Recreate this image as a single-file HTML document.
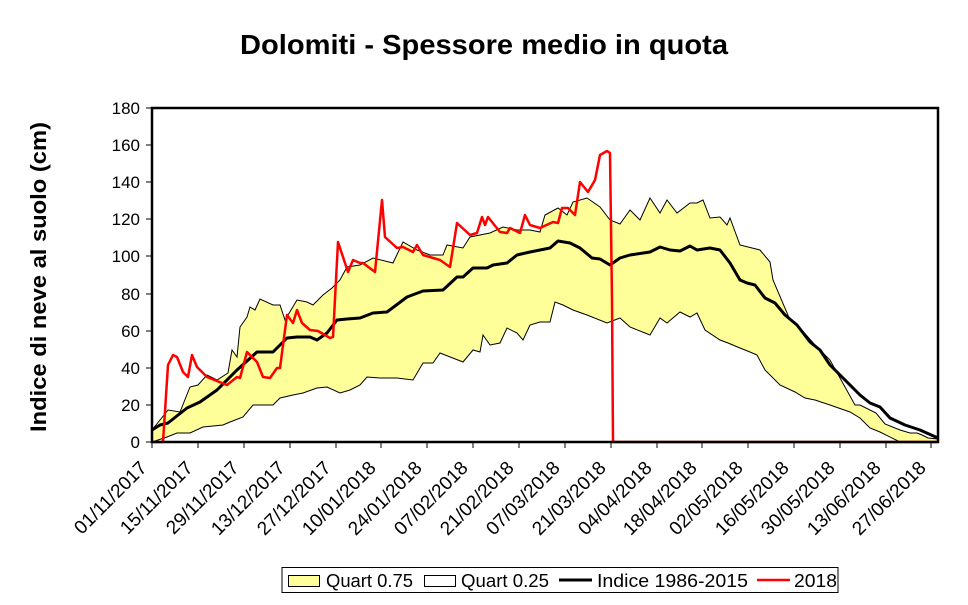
<!DOCTYPE html>
<html><head><meta charset="utf-8"><style>
body{margin:0;background:#fff;}
svg{display:block;font-family:"Liberation Sans",Arial,sans-serif;}
</style></head><body>
<svg width="968" height="605" viewBox="0 0 968 605" xmlns="http://www.w3.org/2000/svg">
<rect width="968" height="605" fill="#fff"/>
<text x="240" y="54" font-size="28" font-weight="bold" textLength="488" lengthAdjust="spacingAndGlyphs">Dolomiti - Spessore medio in quota</text>
<text transform="translate(46,432) rotate(-90)" font-size="22" font-weight="bold" textLength="310" lengthAdjust="spacingAndGlyphs">Indice di neve al suolo (cm)</text>
<!-- band -->
<polygon fill="#ffff99" stroke="none" points="152,430 168,410 180,412 190,387 198,385 207,375 217,380 228,373 232,350 237,357 240,327 247,317 250,307 255,310 260,299 273,305 280,305 285,320 297,300 307,302 313,305 323,295 332,288 340,280 347,267 360,265 373,258 393,263 403,242 417,250 430,255 443,255 447,245 463,248 470,237 490,233 503,227 517,230 530,230 540,232 545,215 558,208 567,215 573,202 587,198 600,207 610,220 620,224 630,210 640,220 650,198 660,213 667,200 677,213 690,203 697,203 703,200 710,218 720,217 727,225 730,218 740,245 760,250 770,262 773,280 790,320 800,328 815,345 830,360 840,378 855,405 860,405 876,413 885,424 900,430 910,433 917,433 922,435 928,438 938,439 938,442 900,442 880,432 870,428 860,418 850,412 830,405 815,400 805,398 795,392 780,385 765,370 757,355 750,352 740,348 728,343 720,340 705,330 697,313 690,317 680,312 667,323 660,318 650,335 645,333 630,327 620,318 607,323 587,315 573,310 563,305 555,302 550,322 540,322 530,325 523,340 517,333 507,328 500,343 490,345 483,335 480,352 473,350 463,362 440,353 433,363 423,363 413,380 397,378 380,378 367,377 360,385 350,390 340,393 327,387 317,388 303,393 293,395 280,398 273,405 253,405 243,417 230,422 223,425 203,427 190,433 177,433 167,437 152,442"/>
<polyline fill="none" stroke="#000" stroke-width="1" points="152,430 168,410 180,412 190,387 198,385 207,375 217,380 228,373 232,350 237,357 240,327 247,317 250,307 255,310 260,299 273,305 280,305 285,320 297,300 307,302 313,305 323,295 332,288 340,280 347,267 360,265 373,258 393,263 403,242 417,250 430,255 443,255 447,245 463,248 470,237 490,233 503,227 517,230 530,230 540,232 545,215 558,208 567,215 573,202 587,198 600,207 610,220 620,224 630,210 640,220 650,198 660,213 667,200 677,213 690,203 697,203 703,200 710,218 720,217 727,225 730,218 740,245 760,250 770,262 773,280 790,320 800,328 815,345 830,360 840,378 855,405 860,405 876,413 885,424 900,430 910,433 917,433 922,435 928,438 938,439"/>
<polyline fill="none" stroke="#000" stroke-width="1" points="152,442 167,437 177,433 190,433 203,427 223,425 230,422 243,417 253,405 273,405 280,398 293,395 303,393 317,388 327,387 340,393 350,390 360,385 367,377 380,378 397,378 413,380 423,363 433,363 440,353 463,362 473,350 480,352 483,335 490,345 500,343 507,328 517,333 523,340 530,325 540,322 550,322 555,302 563,305 573,310 587,315 607,323 620,318 630,327 645,333 650,335 660,318 667,323 680,312 690,317 697,313 705,330 720,340 728,343 740,348 750,352 757,355 765,370 780,385 795,392 805,398 815,400 830,405 850,412 860,418 870,428 880,432 900,442 938,442"/>
<polyline fill="none" stroke="#000" stroke-width="3" stroke-linejoin="round" points="152,430 160,425 168,423 187,408 200,402 217,390 237,370 257,352 273,352 287,338 297,337 310,337 317,340 327,333 337,320 347,319 360,318 373,313 387,312 407,297 423,291 443,290 457,277 463,277 473,268 487,268 493,265 507,263 517,255 530,252 550,248 558,241 570,243 580,248 592,258 600,259 610,265 620,258 630,255 650,252 660,247 670,250 680,251 690,246 697,250 710,248 720,250 730,263 740,280 747,283 755,285 765,298 775,303 785,315 797,325 810,342 820,350 830,365 840,375 860,395 870,403 880,407 890,418 905,425 920,430 938,438"/>
<polyline fill="none" stroke="#ff0000" stroke-width="2.5" stroke-linejoin="round" points="152,442 163,442 168,365 173,355 177,357 183,372 188,377 192,355 197,367 207,377 227,385 237,377 240,378 247,352 257,362 263,377 270,378 277,368 280,368 287,315 293,323 297,310 302,323 310,330 318,331 330,338 333,337 338,242 348,272 353,260 360,263 363,263 375,272 382,200 385,237 397,248 403,247 413,252 417,245 423,255 440,260 450,267 457,223 470,235 477,233 482,217 485,225 488,217 500,232 507,233 510,228 520,233 525,215 530,225 540,228 553,222 558,223 562,208 568,208 575,215 580,182 588,192 595,180 600,155 607,151 610,153 612,300 613,442 938,442"/>
<!-- frame -->
<rect x="152" y="108" width="786" height="334" fill="none" stroke="#000" stroke-width="2.5"/>
<g stroke="#000" stroke-width="1">
<line x1="146" y1="108" x2="152" y2="108"/><line x1="146" y1="145" x2="152" y2="145"/><line x1="146" y1="182" x2="152" y2="182"/><line x1="146" y1="219" x2="152" y2="219"/><line x1="146" y1="256" x2="152" y2="256"/><line x1="146" y1="294" x2="152" y2="294"/><line x1="146" y1="331" x2="152" y2="331"/><line x1="146" y1="368" x2="152" y2="368"/><line x1="146" y1="405" x2="152" y2="405"/><line x1="146" y1="442" x2="152" y2="442"/>
</g>
<g font-size="17" text-anchor="end">
<text x="140" y="114">180</text><text x="140" y="151">160</text><text x="140" y="188">140</text><text x="140" y="225">120</text><text x="140" y="262">100</text><text x="140" y="300">80</text><text x="140" y="337">60</text><text x="140" y="374">40</text><text x="140" y="411">20</text><text x="140" y="448">0</text>
</g>
<g stroke="#000" stroke-width="1">
<line x1="152" y1="442" x2="152" y2="448"/><line x1="198" y1="442" x2="198" y2="448"/><line x1="244" y1="442" x2="244" y2="448"/><line x1="290" y1="442" x2="290" y2="448"/><line x1="336" y1="442" x2="336" y2="448"/><line x1="381" y1="442" x2="381" y2="448"/><line x1="427" y1="442" x2="427" y2="448"/><line x1="473" y1="442" x2="473" y2="448"/><line x1="519" y1="442" x2="519" y2="448"/><line x1="565" y1="442" x2="565" y2="448"/><line x1="611" y1="442" x2="611" y2="448"/><line x1="657" y1="442" x2="657" y2="448"/><line x1="702" y1="442" x2="702" y2="448"/><line x1="748" y1="442" x2="748" y2="448"/><line x1="794" y1="442" x2="794" y2="448"/><line x1="840" y1="442" x2="840" y2="448"/><line x1="886" y1="442" x2="886" y2="448"/><line x1="931" y1="442" x2="931" y2="448"/>
</g>
<g font-size="19" text-anchor="end">
<text transform="translate(148,469) rotate(-45)">01/11/2017</text>
<text transform="translate(194,469) rotate(-45)">15/11/2017</text>
<text transform="translate(240,469) rotate(-45)">29/11/2017</text>
<text transform="translate(286,469) rotate(-45)">13/12/2017</text>
<text transform="translate(332,469) rotate(-45)">27/12/2017</text>
<text transform="translate(377,469) rotate(-45)">10/01/2018</text>
<text transform="translate(423,469) rotate(-45)">24/01/2018</text>
<text transform="translate(469,469) rotate(-45)">07/02/2018</text>
<text transform="translate(515,469) rotate(-45)">21/02/2018</text>
<text transform="translate(561,469) rotate(-45)">07/03/2018</text>
<text transform="translate(607,469) rotate(-45)">21/03/2018</text>
<text transform="translate(653,469) rotate(-45)">04/04/2018</text>
<text transform="translate(698,469) rotate(-45)">18/04/2018</text>
<text transform="translate(744,469) rotate(-45)">02/05/2018</text>
<text transform="translate(790,469) rotate(-45)">16/05/2018</text>
<text transform="translate(836,469) rotate(-45)">30/05/2018</text>
<text transform="translate(882,469) rotate(-45)">13/06/2018</text>
<text transform="translate(927,469) rotate(-45)">27/06/2018</text>
</g>
<!-- legend -->
<rect x="282" y="567.5" width="556" height="25" fill="#fff" stroke="#000" stroke-width="1"/>
<rect x="288.5" y="575.5" width="31" height="11" fill="#ffff99" stroke="#000"/>
<text x="326" y="587" font-size="18" textLength="87" lengthAdjust="spacingAndGlyphs">Quart 0.75</text>
<rect x="424.5" y="575.5" width="31" height="11" fill="#fff" stroke="#000"/>
<text x="461" y="587" font-size="18" textLength="88" lengthAdjust="spacingAndGlyphs">Quart 0.25</text>
<line x1="559" y1="580" x2="592" y2="580" stroke="#000" stroke-width="3"/>
<text x="597" y="587" font-size="18" textLength="151" lengthAdjust="spacingAndGlyphs">Indice 1986-2015</text>
<line x1="757" y1="580" x2="790" y2="580" stroke="#ff0000" stroke-width="2.5"/>
<text x="794" y="587" font-size="18" textLength="43" lengthAdjust="spacingAndGlyphs">2018</text>
</svg>
</body></html>
